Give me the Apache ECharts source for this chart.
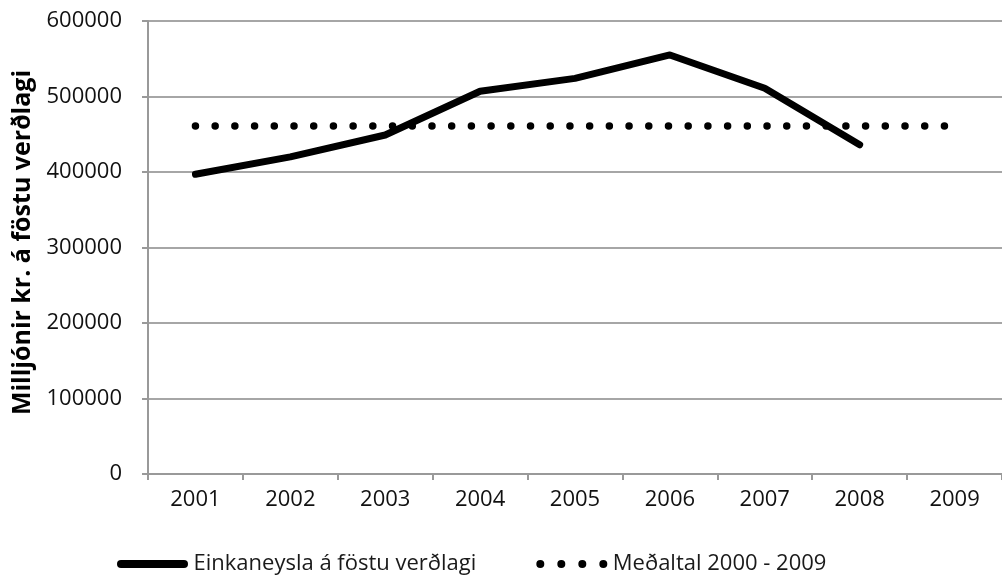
<!DOCTYPE html>
<html>
<head>
<meta charset="utf-8">
<script src="https://cdn.jsdelivr.net/npm/echarts@6/dist/echarts.min.js"></script>
<style>
html,body{margin:0;padding:0;background:#fff;}
#chart{width:1002px;height:581px;}
</style>
</head>
<body>
<div id="chart"></div>
<script>
const years = ['2001','2002','2003','2004','2005','2006','2007','2008','2009'];
const einkaneysla = [397000, 420000, 449000, 507000, 524000, 555000, 511000, 436000, null];
const medaltal = [461000, 461000, 461000, 461000, 461000, 461000, 461000, 461000, 461000];
const yTicks = { min: 0, max: 600000, interval: 100000 };
const seriesNames = ['Einkaneysla á föstu verðlagi', 'Meðaltal 2000 - 2009'];
const yAxisTitle = 'Milljónir kr. á föstu verðlagi';

const font = "'Open Sans', 'Noto Sans', sans-serif";
const dotsIcon = 'path://M0,4a4,4 0 1,0 8,0a4,4 0 1,0 -8,0Z' +
  'M21,4a4,4 0 1,0 8,0a4,4 0 1,0 -8,0Z' +
  'M42,4a4,4 0 1,0 8,0a4,4 0 1,0 -8,0Z' +
  'M63,4a4,4 0 1,0 8,0a4,4 0 1,0 -8,0Z';
const barIcon = 'path://M4,0L67,0A4,4 0 0,1 67,8L4,8A4,4 0 0,1 4,0Z';

const chart = echarts.init(document.getElementById('chart'), null, {renderer: 'canvas'});
chart.setOption({
  animation: false,
  backgroundColor: '#ffffff',
  grid: { left: 148, top: 21, width: 857, bottom: 107, containLabel: false },
  legend: {
    left: 112, top: 548,
    itemWidth: 72, itemHeight: 8, itemGap: 60,
    textStyle: { fontFamily: font, fontSize: 22, color: '#1a1a1a', padding: [8, 0, 0, 0] },
    data: [
      { name: seriesNames[0], icon: barIcon, itemStyle: { color: '#000', borderWidth: 0 } },
      { name: seriesNames[1], icon: dotsIcon, itemStyle: { color: '#000', borderWidth: 0 } }
    ]
  },
  xAxis: {
    type: 'category',
    data: years,
    boundaryGap: true,
    axisLine: { lineStyle: { color: '#999999', width: 2 } },
    axisTick: { show: true, length: 6, lineStyle: { color: '#999999', width: 2 } },
    axisLabel: { margin: 15, fontFamily: font, fontSize: 22, color: '#111' },
    splitLine: { show: false }
  },
  yAxis: {
    type: 'value',
    min: yTicks.min, max: yTicks.max, interval: yTicks.interval,
    name: yAxisTitle,
    nameLocation: 'middle',
    nameGap: 112,
    nameTextStyle: { fontFamily: font, fontSize: 25, fontWeight: 'bold', color: '#000', padding: [0, 0, 0, 10] },
    axisLine: { show: true, lineStyle: { color: '#999999', width: 2 } },
    axisTick: { show: true, length: 6, lineStyle: { color: '#999999', width: 2 } },
    axisLabel: { margin: 26, fontFamily: font, fontSize: 22, color: '#111', formatter: function (v) { return String(v); } },
    splitLine: { show: true, lineStyle: { color: '#a6a6a6', width: 2 } }
  },
  series: [
    {
      name: seriesNames[0],
      type: 'line',
      data: einkaneysla,
      symbol: 'none',
      lineStyle: { color: '#000', width: 7, cap: 'round', join: 'round' },
      itemStyle: { color: '#000' },
      z: 3
    },
    {
      name: seriesNames[1],
      type: 'line',
      data: medaltal,
      symbol: 'none',
      lineStyle: { color: '#000', width: 7.5, type: [0.01, 19.7], cap: 'round' },
      itemStyle: { color: '#000' },
      z: 2
    }
  ]
});
</script>
</body>
</html>
